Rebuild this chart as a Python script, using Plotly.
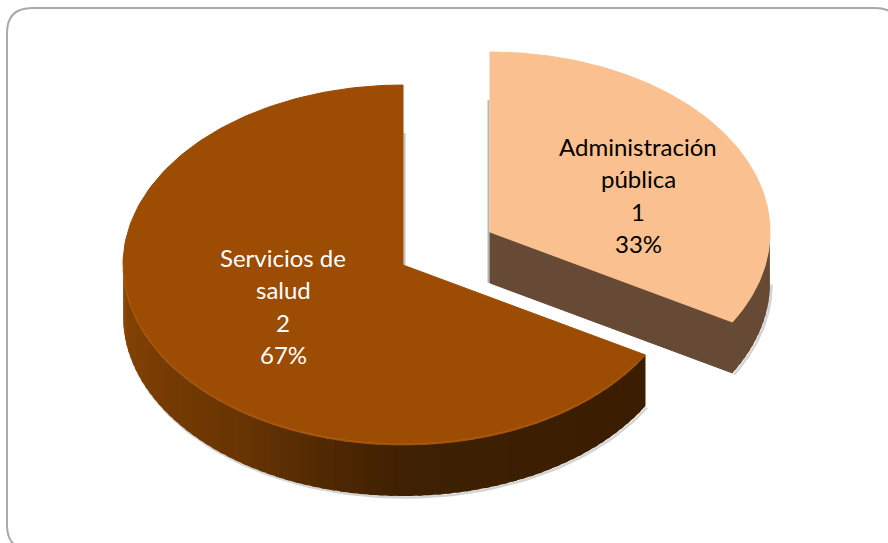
"""
3D-look pie chart: sectors by type of service.
Plotly pies are always flat circles, so the tilted slices are built as filled
scatter polygons whose angles come from the values.
"""

import numpy as np
import plotly.graph_objects as go

# DATA

labels = ["Administración pública", "Servicios de salud"]
label_lines = [["Administración", "pública"], ["Servicios de", "salud"]]
values = [1, 2]

# STYLE

TOP_COLORS = ["#fac08f", "#9c4c03"]
TEXT_COLORS = ["#000000", "#ffffff"]
# outer wall shade stops: (clockwise angle from 12 o'clock, rgb)
WALL_STOPS = [
    [(0, (103, 74, 53)), (120, (103, 74, 53))],
    [(120, (58, 29, 2)), (180, (62, 32, 2)), (215, (104, 52, 3)), (270, (138, 69, 4)), (360, (138, 69, 4))],
]
CUT_COLOR = "#674a35"
CENTER = (403, 265)
PULL = [(87, -33), (0, 0)]
RX, RY, DEPTH = 280, 180, 51
FONT = "Lato"
LINE_STEP = 32.5
TEXT_CENTERS = [(638, 195), (283, 306)]


def ring(cx, cy, a0, a1, n):
    """Points on the ellipse between two clockwise angles (degrees from top)."""
    t = np.radians(np.linspace(a0, a1, n))
    return cx + RX * np.sin(t), cy - RY * np.cos(t)


def wall_color(stops, a):
    angles = [s[0] for s in stops]
    rgb = [np.interp(a, angles, [s[1][i] for s in stops]) for i in range(3)]
    return "rgb({:.0f},{:.0f},{:.0f})".format(*rgb)


def polygon(x, y, color, stroke=True):
    return go.Scatter(
        x=x, y=y,
        mode="lines",
        fill="toself",
        fillcolor=color,
        line=dict(color=color, width=1 if stroke else 0),
        hoverinfo="skip",
        showlegend=False,
    )


def thin_line(x, y, color, width):
    return go.Scatter(
        x=x, y=y, mode="lines",
        line=dict(color=color, width=width),
        hoverinfo="skip", showlegend=False,
    )


fig = go.Figure()

total = sum(values)
start = 0
spans = []
for v in values:
    spans.append((start, start + 360 * v / total))
    start += 360 * v / total

# brown slice first, the pulled-out one sits behind it
for i in [1, 0]:
    a0, a1 = spans[i]
    cx, cy = CENTER[0] + PULL[i][0], CENTER[1] + PULL[i][1]

    # soft shadow under the wall
    sx, sy = ring(cx, cy + DEPTH, max(a0, 90), min(a1, 270), 80)
    fig.add_trace(thin_line(sx + 1.5, sy + 1.5, "#d4d4d4", 2.5))

    # soft shadow along the vertical cut
    if i == 1:
        fig.add_trace(thin_line([cx + 1.5, cx + 1.5], [cy - 132, cy], "#c4c0bc", 2))
    else:
        fig.add_trace(thin_line([cx - 1.5, cx - 1.5], [cy - 132, cy + DEPTH], "#b4b4b4", 2))

    # cut face that looks to the front on the pulled slice
    if i == 0:
        ex, ey = ring(cx, cy, a1, a1, 1)
        fig.add_trace(polygon(
            [cx, ex[0], ex[0], cx, cx],
            [cy, ey[0], ey[0] + DEPTH, cy + DEPTH, cy],
            CUT_COLOR,
        ))

    # outer wall, only the part facing the viewer; each strip runs under the next
    w0, w1 = max(a0, 90), min(a1, 270)
    edges = np.arange(w0, w1 + 0.01, 2.0)
    for b0, b1 in zip(edges[:-1], edges[1:]):
        wx, wy = ring(cx, cy, b0, min(b1 + 1.0, w1), 4)
        fig.add_trace(polygon(
            np.r_[wx, wx[::-1]],
            np.r_[wy, wy[::-1] + DEPTH],
            wall_color(WALL_STOPS[i], (b0 + b1) / 2),
            stroke=False,
        ))

    # top face
    tx, ty = ring(cx, cy, a0, a1, 200)
    fig.add_trace(polygon(np.r_[cx, tx, cx], np.r_[cy, ty, cy], TOP_COLORS[i]))

    # faint lighter rim on the front edge of the brown slice
    if i == 1:
        rx, ry = ring(cx, cy, a0 + 3, 268, 120)
        fig.add_trace(thin_line(rx, ry - 1, "#ad5c12", 1))

# data labels, one annotation per line because the line spacing is wide
for i in range(len(values)):
    pct = round(100 * values[i] / total)
    lines = label_lines[i] + [str(values[i]), f"{pct}%"]
    tcx, tcy = TEXT_CENTERS[i]
    for k, line in enumerate(lines):
        fig.add_annotation(
            x=tcx, y=tcy + (k - (len(lines) - 1) / 2) * LINE_STEP,
            text=line, showarrow=False,
            font=dict(family=FONT, size=24, color=TEXT_COLORS[i]),
        )

# rounded frame, it runs off the right and bottom of the picture
L, T, R, B, C = 7, 8, 900, 550, 25
fig.add_shape(
    type="path",
    path=(f"M {L + C} {T} L {R - C} {T} Q {R} {T} {R} {T + C} L {R} {B - C} "
          f"Q {R} {B} {R - C} {B} L {L + C} {B} Q {L} {B} {L} {B - C} "
          f"L {L} {T + C} Q {L} {T} {L + C} {T} Z"),
    line=dict(color="#a9a9a9", width=2),
    layer="below",
)

fig.update_layout(
    width=888,
    height=543,
    margin=dict(l=0, r=0, t=0, b=0),
    paper_bgcolor="#ffffff",
    plot_bgcolor="#ffffff",
    showlegend=False,
    xaxis=dict(range=[0, 888], visible=False, fixedrange=True),
    yaxis=dict(range=[543, 0], visible=False, fixedrange=True),
)

fig.write_html(
    "out.html",
    config=dict(displayModeBar=False),
    post_script="document.body.style.margin='0';",
)
